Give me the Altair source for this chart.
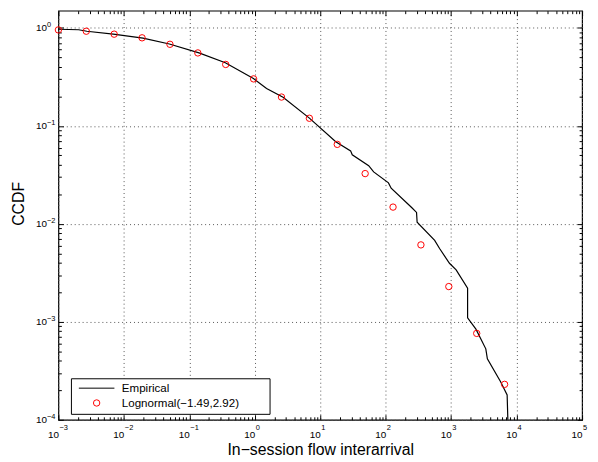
import json
import altair as alt
import pandas as pd

FONT = "Liberation Sans"

# Empirical CCDF
emp_x = [0.001, 0.00204, 0.00272, 0.00689, 0.01959, 0.04955, 0.1406, 0.3548,
         0.953, 1.514, 2.704, 6.823, 17.26, 29.11, 30.83, 54.95, 65.46, 110.2,
         121.1, 248.9, 295.8, 302.0, 559.8, 665.3, 941.9, 1191, 1782, 1782,
         2388, 3381, 3573, 5689, 7161, 7345]
emp_y = [0.970, 0.959, 0.926, 0.864, 0.788, 0.685, 0.556, 0.441,
         0.304, 0.241, 0.196, 0.120, 0.0690, 0.0556, 0.0507, 0.0393, 0.0339, 0.0262,
         0.0231, 0.01469, 0.01309, 0.01038, 0.00679, 0.00560, 0.00396, 0.00339, 0.00221, 0.00110,
         0.000842, 0.000530, 0.000420, 0.000245, 0.000179, 0.0001]

# Lognormal fit markers
ln_x = [0.001, 0.002667, 0.007112, 0.01897, 0.05058, 0.1349, 0.3597, 0.9594,
        2.559, 6.823, 18.20, 48.53, 129.4, 345.1, 920.4, 2455, 6546]
ln_y = [0.955, 0.926, 0.864, 0.793, 0.681, 0.556, 0.424, 0.302,
        0.197, 0.1197, 0.0648, 0.0326, 0.01483, 0.0061, 0.00229, 0.000762, 0.000230]

series_names = ["Empirical", "Lognormal(\u22121.49,2.92)"]

x_major = [1e-3, 1e-2, 1e-1, 1e0, 1e1, 1e2, 1e3, 1e4, 1e5]
x_exp = ["\u22123", "\u22122", "\u22121", "0", "1", "2", "3", "4", "5"]
y_major = [1e-4, 1e-3, 1e-2, 1e-1, 1e0]
y_exp = ["\u22124", "\u22123", "\u22122", "\u22121", "0"]
minor_mult = [2, 3, 4, 5, 6, 7, 8, 9]
x_minor = [m * d for d in x_major[:-1] for m in minor_mult]
y_minor = [m * d for d in y_major[:-1] for m in minor_mult]

emp = pd.DataFrame({"x": emp_x, "y": emp_y, "i": list(range(len(emp_x)))})
logn = pd.DataFrame({"x": ln_x, "y": ln_y, "series": series_names[1]})

xs = alt.Scale(type="log", domain=[1e-3, 1e5], nice=False)
ys = alt.Scale(type="log", domain=[1e-4, 1.5], nice=False)

common = dict(domain=False, labelFlush=False, labelOverlap=False)

def exp_expr(arr, shift):
    return json.dumps(arr) + "[round(log(datum.value)/LN10)+" + str(shift) + "]"

# x axes
ax_b_major = alt.Axis(orient="bottom", values=x_major, offset=-5, tickSize=5, ticks=True,
                      tickColor="black", tickWidth=1, grid=False, labelExpr="'10'",
                      labelAlign="right", labelBaseline="alphabetic", labelPadding=18,
                      labelFontSize=10, title=None, **common)
ax_b_exp = alt.Axis(orient="bottom", values=x_major, ticks=False, tickSize=0, grid=False,
                    labelExpr=exp_expr(x_exp, 3), labelAlign="left", labelBaseline="alphabetic",
                    labelPadding=10, labelOffset=0.5, labelFontSize=7.5,
                    title="In\u2212session flow interarrival", titleX=265, titleY=35,
                    titleAlign="center", titleBaseline="alphabetic", titleFontSize=16, **common)
ax_b_minor = alt.Axis(orient="bottom", values=x_minor, offset=-3, tickSize=3, tickColor="black",
                      tickWidth=1, labels=False, grid=False, title=None, **common)
ax_t_major = alt.Axis(orient="top", values=x_major, offset=-5, tickSize=5, tickColor="black",
                      tickWidth=1, labels=False, grid=False, title=None, **common)
ax_t_minor = alt.Axis(orient="top", values=x_minor, offset=-3, tickSize=3, tickColor="black",
                      tickWidth=1, labels=False, grid=False, title=None, **common)
ax_x_grid = alt.Axis(orient="bottom", values=x_major, grid=True, gridColor="#555555",
                     gridDash=[1, 3], gridWidth=1, ticks=False, labels=False, title=None, **common)

# y axes
ay_l_major = alt.Axis(orient="left", values=y_major, offset=-5, tickSize=5, tickColor="black",
                      tickWidth=1, grid=False, labelExpr="'10'", labelAlign="right",
                      labelBaseline="middle", labelPadding=12, labelFontSize=10, title=None, **common)
ay_l_exp = alt.Axis(orient="left", values=y_major, ticks=False, tickSize=0, grid=False,
                    labelExpr=exp_expr(y_exp, 4), labelAlign="left", labelBaseline="middle",
                    labelPadding=12, labelOffset=-3, labelFontSize=7.5,
                    title="CCDF", titleAngle=270, titleX=-35, titleY=195, titleAlign="center",
                    titleBaseline="alphabetic", titleFontSize=16, **common)
ay_l_minor = alt.Axis(orient="left", values=y_minor, offset=-3, tickSize=3, tickColor="black",
                      tickWidth=1, labels=False, grid=False, title=None, **common)
ay_r_major = alt.Axis(orient="right", values=y_major, offset=-5, tickSize=5, tickColor="black",
                      tickWidth=1, labels=False, grid=False, title=None, **common)
ay_r_minor = alt.Axis(orient="right", values=y_minor, offset=-3, tickSize=3, tickColor="black",
                      tickWidth=1, labels=False, grid=False, title=None, **common)
ay_y_grid = alt.Axis(orient="left", values=y_major, grid=True, gridColor="#555555",
                     gridDash=[1, 3], gridWidth=1, ticks=False, labels=False, title=None, **common)

# blank (non-whitespace) padding so the legend box is as wide as the reference
pad_expr = "datum.label + '" + "\u2800" * 3 + "'"
legend = alt.Legend(orient="none", legendX=12.7, legendY=372, title=None,
                    strokeColor="black", fillColor="white", padding=3.5,
                    labelFont=FONT, labelFontSize=11.7, labelColor="black",
                    labelOffset=7, symbolStrokeWidth=1, rowPadding=1, symbolOffset=4,
                    clipHeight=13, labelExpr=pad_expr, labelLimit=300, cornerRadius=0)

grid_layer = alt.Chart(emp).mark_point(opacity=0).encode(
    x=alt.X("x:Q", scale=xs, axis=ax_x_grid),
    y=alt.Y("y:Q", scale=ys, axis=ay_y_grid),
)

line = alt.Chart(emp).mark_line(color="black", strokeWidth=1.2).encode(
    x=alt.X("x:Q", scale=xs, axis=ax_b_major),
    y=alt.Y("y:Q", scale=ys, axis=ay_l_major),
    order="i:Q",
)

points = alt.Chart(logn).mark_point(filled=False, strokeWidth=1, opacity=1).encode(
    x=alt.X("x:Q", scale=xs, axis=ax_b_exp),
    y=alt.Y("y:Q", scale=ys, axis=ay_l_exp),
    color=alt.Color("series:N", scale=alt.Scale(domain=series_names, range=["black", "#ff0000"]), legend=legend),
    shape=alt.Shape("series:N", scale=alt.Scale(domain=series_names, range=["stroke", "circle"]), legend=legend),
    size=alt.Size("series:N", scale=alt.Scale(domain=series_names, range=[1296, 42]), legend=legend),
)

l3 = alt.Chart(emp).mark_point(opacity=0).encode(
    x=alt.X("x:Q", scale=xs, axis=ax_b_minor),
    y=alt.Y("y:Q", scale=ys, axis=ay_l_minor),
)
l4 = alt.Chart(emp).mark_point(opacity=0).encode(
    x=alt.X("x:Q", scale=xs, axis=ax_t_major),
    y=alt.Y("y:Q", scale=ys, axis=ay_r_major),
)
l5 = alt.Chart(emp).mark_point(opacity=0).encode(
    x=alt.X("x:Q", scale=xs, axis=ax_t_minor),
    y=alt.Y("y:Q", scale=ys, axis=ay_r_minor),
)

chart = alt.layer(grid_layer, line, points, l3, l4, l5).resolve_axis(
    x="independent", y="independent"
).properties(
    width=530, height=414,
    autosize=alt.AutoSizeParams(type="none"),
    padding={"left": 51, "top": 0, "right": 8, "bottom": 40},
    background="white",
).configure_view(
    stroke="black", strokeWidth=1.2
).configure_axis(
    labelFont=FONT, titleFont=FONT, labelColor="black", titleColor="black",
    titleFontWeight="normal"
)

chart.save("out.html", embed_options={"renderer": "svg", "actions": False})
